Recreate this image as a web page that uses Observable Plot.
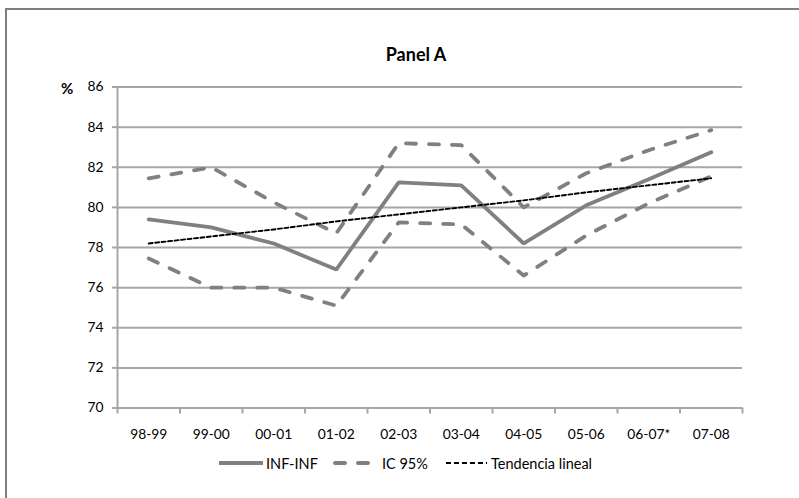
<!DOCTYPE html>
<html>
<head>
<meta charset="utf-8">
<script src="https://cdn.jsdelivr.net/npm/d3@7"></script>
<script src="https://cdn.jsdelivr.net/npm/@observablehq/plot@0.6"></script>
<style>
  html, body { margin: 0; padding: 0; background: #fff; }
  #wrap { position: relative; width: 799px; height: 498px; overflow: hidden; font-family: Lato, "Open Sans", sans-serif; color: #000; }
  #frame { position: absolute; left: 5px; top: 8px; width: 820px; height: 520px; border-top: 2px solid #7f7f7f; border-left: 2px solid #7f7f7f; box-sizing: border-box; }
  #title { position: absolute; left: 316px; width: 200px; top: 43px; text-align: center; font-weight: bold; font-size: 18px; }
  #pct { position: absolute; left: 61px; top: 79px; font-weight: bold; font-size: 15px; }
  #chart { position: absolute; left: 0; top: 0; }
  .leg { position: absolute; top: 454px; height: 18px; font-size: 14.5px; display: flex; align-items: center; }
  .leg svg { margin-right: 2px; }
</style>
</head>
<body>
<div id="wrap">
  <div id="frame"></div>
  <div id="chart"></div>
  <div id="title">Panel A</div>
  <div id="pct">%</div>
  <div class="leg" style="left:218px"><svg width="46" height="10"><line x1="1" x2="45" y1="5" y2="5" stroke="#808080" stroke-width="4"/></svg>INF-INF</div>
  <div class="leg" style="left:332px"><svg width="48" height="10"><line x1="3" x2="42" y1="5" y2="5" stroke="#808080" stroke-width="4" stroke-dasharray="10,13" stroke-linecap="round"/></svg>IC 95%</div>
  <div class="leg" style="left:445px"><svg width="44" height="10"><line x1="1" x2="42" y1="5" y2="5" stroke="#000" stroke-width="2" stroke-dasharray="5,3"/></svg>Tendencia lineal</div>
</div>
<script>
const categories = ["98-99","99-00","00-01","01-02","02-03","03-04","04-05","05-06","06-07*","07-08"];
const infInf  = [79.4, 79.0, 78.2, 76.9, 81.25, 81.1, 78.2, 80.1, 81.4, 82.75];
const icUpper = [81.45, 82.0, 80.25, 78.7, 83.2, 83.1, 80.0, 81.7, 82.85, 83.85];
const icLower = [77.45, 76.0, 76.0, 75.1, 79.25, 79.15, 76.6, 78.6, 80.2, 81.55];
const trend   = [78.2, 78.55, 78.9, 79.3, 79.65, 80.0, 80.35, 80.75, 81.1, 81.45];
const yTicks  = [70, 72, 74, 76, 78, 80, 82, 84, 86];

const idx = categories.map((c, i) => i);
const bounds = d3.range(categories.length + 1).map(i => i - 0.5);
const rows = (vals) => vals.map((v, i) => ({i, v}));

const gridColor = "#a6a6a6";
const lineColor = "#808080";

const plot = Plot.plot({
  width: 799,
  height: 498,
  marginLeft: 117,
  marginRight: 57,
  marginTop: 86.5,
  marginBottom: 90.5,
  style: { fontFamily: "Lato, 'Open Sans', sans-serif", fontSize: "13.8px", color: "#000", background: "transparent", overflow: "visible" },
  x: { type: "linear", domain: [-0.5, categories.length - 0.5] },
  y: { domain: [70, 86] },
  marks: [
    Plot.ruleY(yTicks, { stroke: gridColor, strokeWidth: 2 }),
    Plot.ruleX([-0.5], { stroke: gridColor, strokeWidth: 2 }),
    Plot.axisY({ ticks: yTicks, tickSize: 5, tickPadding: 9, stroke: gridColor, strokeWidth: 2, label: null, tickFormat: d => String(d), fill: "#000" }),
    Plot.axisX({ ticks: bounds, tickSize: 6, tickFormat: () => "", stroke: gridColor, strokeWidth: 2, label: null }),
    Plot.axisX({ ticks: idx, tickSize: 0, tickPadding: 21, tickFormat: i => categories[i], label: null, fill: "#000" }),
    Plot.line(rows(icUpper), { x: "i", y: "v", stroke: lineColor, strokeWidth: 3.8, strokeDasharray: "10,13", strokeLinecap: "round", strokeLinejoin: "round" }),
    Plot.line(rows(icLower), { x: "i", y: "v", stroke: lineColor, strokeWidth: 3.8, strokeDasharray: "10,13", strokeLinecap: "round", strokeLinejoin: "round" }),
    Plot.line(rows(infInf), { x: "i", y: "v", stroke: lineColor, strokeWidth: 3.8, strokeLinejoin: "miter" }),
    Plot.line(rows(trend), { x: "i", y: "v", stroke: "#000", strokeWidth: 1.9, strokeDasharray: "4,2.5" })
  ]
});
document.getElementById("chart").appendChild(plot);
</script>
</body>
</html>
